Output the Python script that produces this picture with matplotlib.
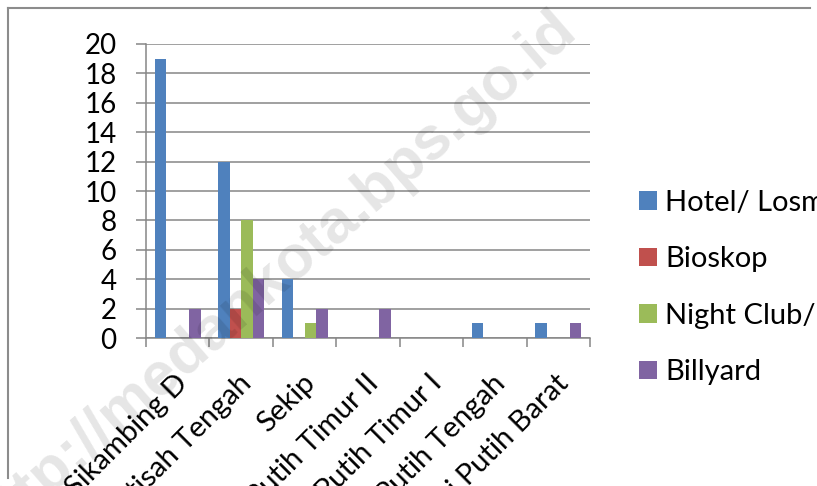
import numpy as np
import matplotlib
matplotlib.use('Agg')
import matplotlib.pyplot as plt
import matplotlib.transforms as mtransforms
from matplotlib.lines import Line2D

plt.rcParams['font.family'] = ['Lato', 'DejaVu Sans']

# data
kelurahan = ['Sei Sikambing D', 'Petisah Tengah', 'Sekip', 'Sei Putih Timur II',
             'Sei Putih Timur I', 'Sei Putih Tengah', 'Sei Putih Barat']
series = ['Hotel/ Losmen', 'Bioskop', 'Night Club/ Diskotik', 'Billyard']
hotel = [19, 12, 4, 0, 0, 1, 1]
bioskop = [0, 2, 0, 0, 0, 0, 0]
night_club = [0, 8, 1, 0, 0, 0, 0]
billyard = [2, 4, 2, 2, 0, 0, 1]
y_ticks = [0, 2, 4, 6, 8, 10, 12, 14, 16, 18, 20]

colors = ['#4F81BD', '#C0504D', '#9BBB59', '#8064A2']
grid_col = '#868686'

fig = plt.figure(figsize=(8.17, 4.86), dpi=100)
ax = fig.add_axes([146/817, 1-338/486, 444/817, 294/486])

x = np.arange(len(kelurahan))
w = 0.181
handles = []
for i, (vals, name) in enumerate(zip([hotel, bioskop, night_club, billyard], series)):
    b = ax.bar(x + (i - 1.5)*w, vals, width=w, color=colors[i], label=name, zorder=3)
    handles.append(b)

ax.set_xlim(-0.5, len(kelurahan) - 0.5)
ax.set_ylim(0, 20)
ax.set_yticks(y_ticks)
ax.tick_params(axis='y', length=7.2, width=1.1, color=grid_col, pad=14, labelsize=20)
ax.yaxis.grid(True, color=grid_col, linewidth=1.1, zorder=0)
ax.set_axisbelow(True)

# category boundaries as ticks; names drawn as rotated text under each group
ax.set_xticks(np.arange(-0.5, len(kelurahan)), labels=[])
ax.tick_params(axis='x', length=6.5, width=1.1, color=grid_col)
offset = mtransforms.ScaledTranslation(-3/100, -32/100, fig.dpi_scale_trans)
for i, name in enumerate(kelurahan):
    ax.text(i, 0, name, transform=ax.get_xaxis_transform() + offset,
            rotation=45, ha='right', va='top', rotation_mode='anchor',
            fontsize=21, clip_on=False)

for s in ['top', 'right']:
    ax.spines[s].set_visible(False)
for s in ['left', 'bottom']:
    ax.spines[s].set_color(grid_col)
    ax.spines[s].set_linewidth(1.1)

fig.legend(handles=handles, labels=series, loc='center left',
           bbox_to_anchor=(639/817, 1-287.5/486), frameon=False, fontsize=21,
           handlelength=0.6, handleheight=0.6, handletextpad=0.3,
           labelspacing=1.05, borderpad=0, borderaxespad=0)

# outer chart frame
fig.add_artist(Line2D([8/817, 8/817], [1-478/486, 1-8/486], color='#8c8c8c', lw=1.5))
fig.add_artist(Line2D([8/817, 810/817], [1-8/486, 1-8/486], color='#8c8c8c', lw=1.5))

# watermark
fig.text(0.335, 0.43, 'http://medankota.bps.go.id', rotation=41, fontsize=44,
         weight='bold', family='Liberation Sans', color='black', alpha=0.1,
         ha='center', va='center', zorder=10)

fig.savefig('out.png', dpi=100)
